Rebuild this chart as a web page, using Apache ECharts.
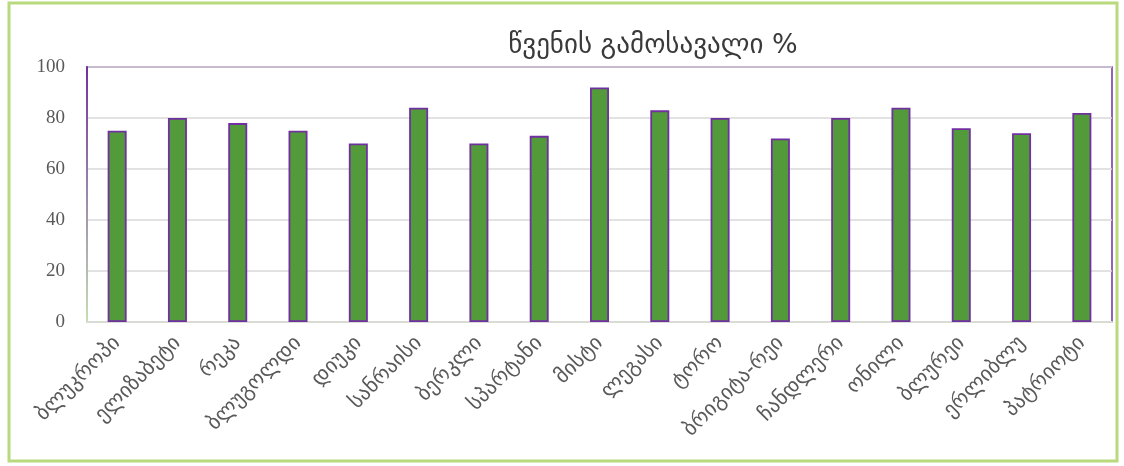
<!DOCTYPE html>
<html>
<head>
<meta charset="utf-8">
<script src="https://cdn.jsdelivr.net/npm/echarts@6/dist/echarts.min.js"></script>
<style>
  html, body { margin: 0; padding: 0; background: #ffffff; }
  #chart { width: 1124px; height: 466px; }
</style>
</head>
<body>
<div id="chart"></div>
<script>
// Blueberry varieties and their juice yield (%)
const varieties = [
  'ბლუკროპი', 'ელიზაბეტი', 'რეკა', 'ბლუგოლდი', 'დიუკი', 'სანრაისი',
  'ბერკლი', 'სპარტანი', 'მისტი', 'ლეგასი', 'ტორო', 'ბრიგიტა-რეი',
  'ჩანდლერი', 'ონილი', 'ბლურეი', 'ერლიბლუ', 'პატრიოტი'
];
const juiceYield = [75, 80, 78, 75, 70, 84, 70, 73, 92, 83, 80, 72, 80, 84, 76, 74, 82];
const titleText = 'წვენის გამოსავალი %';

const chart = echarts.init(document.getElementById('chart'), null, { renderer: 'canvas' });

chart.setOption({
  animation: false,
  backgroundColor: '#ffffff',
  title: {
    text: titleText,
    left: 648,
    top: 27,
    textAlign: 'center',
    textStyle: { fontFamily: 'DejaVu Sans', fontSize: 27, fontWeight: 'normal', color: '#3a3a3a' }
  },
  graphic: [{
    type: 'rect',
    shape: { x: 9, y: 3, width: 1108, height: 458 },
    style: { fill: 'none', stroke: '#b8d97c', lineWidth: 3 },
    silent: true
  }],
  grid: {
    left: 87, right: 12, top: 67, bottom: 144,
    show: true,
    borderColor: '#7030a0',
    borderWidth: 1.5
  },
  xAxis: {
    type: 'category',
    data: varieties,
    axisLine: { show: true, lineStyle: { color: '#d9dcd4', width: 2 } },
    axisTick: { show: false },
    axisLabel: {
      interval: 0,
      rotate: 45,
      margin: 18,
      fontFamily: 'DejaVu Sans',
      fontSize: 21,
      color: '#595959'
    }
  },
  yAxis: {
    type: 'value',
    min: 0, max: 100, interval: 20,
    axisLine: {
      show: true,
      lineStyle: {
        width: 2,
        color: new echarts.graphic.LinearGradient(0, 0, 0, 1, [
          { offset: 0, color: '#7030a0' },
          { offset: 1, color: '#c6e0b4' }
        ])
      }
    },
    axisTick: { show: false },
    splitLine: { lineStyle: { color: '#d9d9d9', width: 1.5 } },
    axisLabel: {
      margin: 22,
      fontFamily: 'Liberation Serif',
      fontSize: 19,
      color: '#595959'
    }
  },
  series: [{
    type: 'bar',
    data: juiceYield,
    barWidth: 19,
    itemStyle: { color: '#529a3a', borderColor: '#7030a0', borderWidth: 1.8 }
  }]
});
</script>
</body>
</html>
